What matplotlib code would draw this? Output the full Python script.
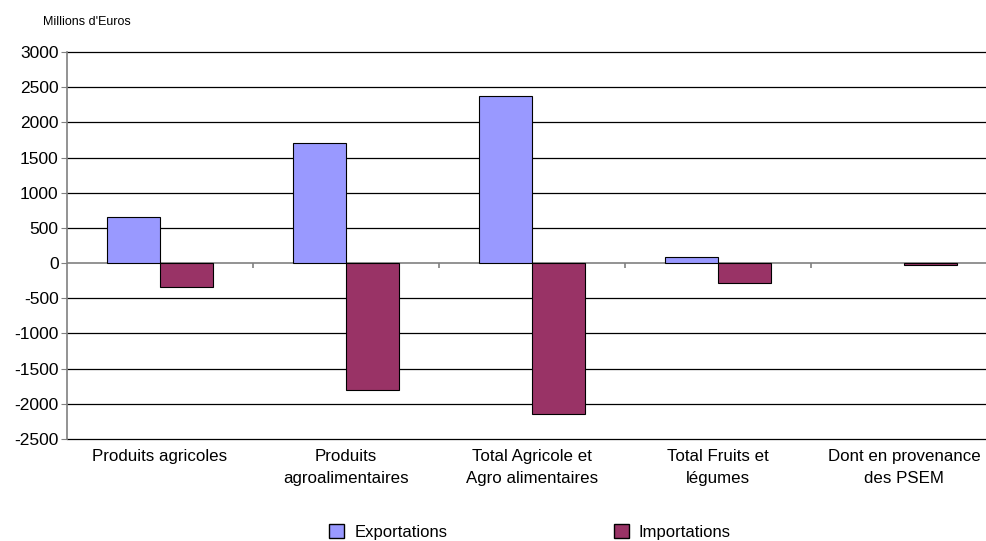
import matplotlib.pyplot as plt
import matplotlib.patches as mpatches
import numpy as np

plt.rcParams['font.family'] = ['Liberation Sans', 'DejaVu Sans']

categories = ['Produits agricoles', 'Produits\nagroalimentaires',
              'Total Agricole et\nAgro alimentaires', 'Total Fruits et\nlégumes',
              'Dont en provenance\ndes PSEM']
exportations = [650, 1710, 2370, 90, 0]
importations = [-340, -1800, -2150, -280, -30]
yticks = np.arange(-2500, 3001, 500)

fig = plt.figure(figsize=(9.87, 5.41), dpi=100)
ax = fig.add_axes([67 / 987, 1 - 439 / 541, 930 / 987, 387 / 541])

x = np.arange(len(categories))
w = 0.285
exp_edges = ['black' if v != 0 else 'none' for v in exportations]
ax.bar(x - w / 2, exportations, w, color='#9999FF', edgecolor=exp_edges, linewidth=0.8, zorder=3)
ax.bar(x + w / 2, importations, w, color='#993366', edgecolor='black', linewidth=0.8, zorder=3)

# gridlines
for yv in yticks:
    if yv == 0:
        ax.axhline(yv, color='#808080', linewidth=1.2, zorder=2)
    else:
        ax.axhline(yv, color='black', linewidth=0.9, zorder=1, clip_on=False)

# category separators on the zero line
ax.vlines(x[:-1] + 0.5, -70, 0, color='#808080', linewidth=1.2, zorder=2)

ax.set_xlim(-0.5, len(categories) - 0.5)
ax.set_ylim(-2500, 3000)
ax.set_yticks(yticks)
ax.set_yticklabels([str(v) for v in yticks], fontsize=12.5)
ax.set_xticks(x)
ax.set_xticklabels(categories, fontsize=12.2, linespacing=1.6)
ax.tick_params(axis='x', length=0, pad=7)
ax.tick_params(axis='y', length=4, color='#808080', pad=2)

for s in ['top', 'right', 'bottom']:
    ax.spines[s].set_visible(False)
ax.spines['left'].set_color('#808080')
ax.spines['left'].set_linewidth(1.2)

fig.text(43 / 987, 1 - 22 / 541, "Millions d'Euros", fontsize=9, va='center')

handles = [mpatches.Patch(facecolor='#9999FF', edgecolor='black', label='Exportations'),
           mpatches.Patch(facecolor='#993366', edgecolor='black', label='Importations')]
fig.legend(handles=handles, loc='center', bbox_to_anchor=(530 / 987, 1 - 532 / 541),
           ncol=2, frameon=False, fontsize=12, columnspacing=10, handlelength=0.9,
           handleheight=0.9, handletextpad=0.6)

fig.savefig('out.png', dpi=100)
